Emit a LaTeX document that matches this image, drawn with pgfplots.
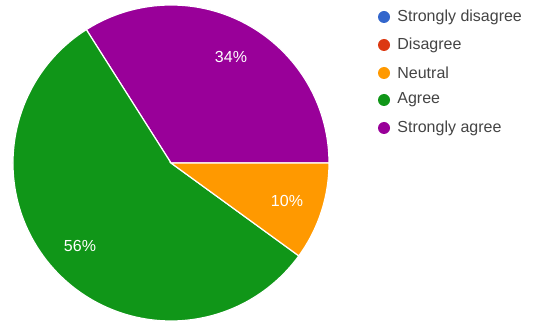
\documentclass[border=0pt]{standalone}
\usepackage{pgfplots}
\pgfplotsset{compat=1.18}
\usepackage{fontspec}
\setmainfont{Liberation Sans}
\definecolor{csd}{HTML}{3366CC}
\definecolor{cd}{HTML}{DC3912}
\definecolor{cn}{HTML}{FF9900}
\definecolor{ca}{HTML}{109618}
\definecolor{csa}{HTML}{990099}
\definecolor{ctext}{HTML}{444444}
\begin{document}
\begin{tikzpicture}
\begin{axis}[x=0.5pt,y=0.5pt,xmin=0,xmax=536,ymin=0,ymax=322,hide axis,scale only axis,clip=false]
% data (percent)
\def\vSD{0}\def\vD{0}\def\vN{10}\def\vA{56}\def\vSA{34}
\pgfmathsetmacro\sSA{0}
\pgfmathsetmacro\eSA{\sSA+3.6*\vSA}
\pgfmathsetmacro\sA{\eSA}
\pgfmathsetmacro\eA{\sA+3.6*\vA}
\pgfmathsetmacro\sN{\eA}
\pgfmathsetmacro\eN{\sN+3.6*\vN}
\coordinate (bl) at (axis cs:0,0);
\coordinate (tr) at (axis cs:536,322);
\filldraw[fill=csa,draw=white,line width=0.6pt] (axis cs:171,159) -- ++(\sSA:79pt) arc[start angle=\sSA,end angle=\eSA,radius=79pt] -- cycle;
\filldraw[fill=ca,draw=white,line width=0.6pt] (axis cs:171,159) -- ++(\sA:79pt) arc[start angle=\sA,end angle=\eA,radius=79pt] -- cycle;
\filldraw[fill=cn,draw=white,line width=0.6pt] (axis cs:171,159) -- ++(\sN:79pt) arc[start angle=\sN,end angle=\eN,radius=79pt] -- cycle;
\node[white,font=\fontsize{8}{9}\selectfont] at (axis cs:231,265) {\vSA\%};
\node[white,font=\fontsize{8}{9}\selectfont] at (axis cs:287,121) {\vN\%};
\node[white,font=\fontsize{8}{9}\selectfont] at (axis cs:80,76) {\vA\%};
% legend
\fill[csd] (axis cs:384,305) circle[radius=3pt];
\fill[cd]  (axis cs:384,277) circle[radius=3pt];
\fill[cn]  (axis cs:384,249) circle[radius=3pt];
\fill[ca]  (axis cs:384,222) circle[radius=3pt];
\fill[csa] (axis cs:384,194) circle[radius=3pt];
\begin{scope}[every node/.style={anchor=west,inner sep=0pt,text=ctext,font=\fontsize{8}{9}\selectfont}]
\node at (axis cs:397,305) {Strongly disagree};
\node at (axis cs:397,277) {Disagree};
\node at (axis cs:397,249) {Neutral};
\node at (axis cs:397,222) {Agree};
\node at (axis cs:397,194) {Strongly agree};
\end{scope}
\end{axis}
\pgfresetboundingbox
\path[use as bounding box] (bl) rectangle (tr);
\end{tikzpicture}
\end{document}
